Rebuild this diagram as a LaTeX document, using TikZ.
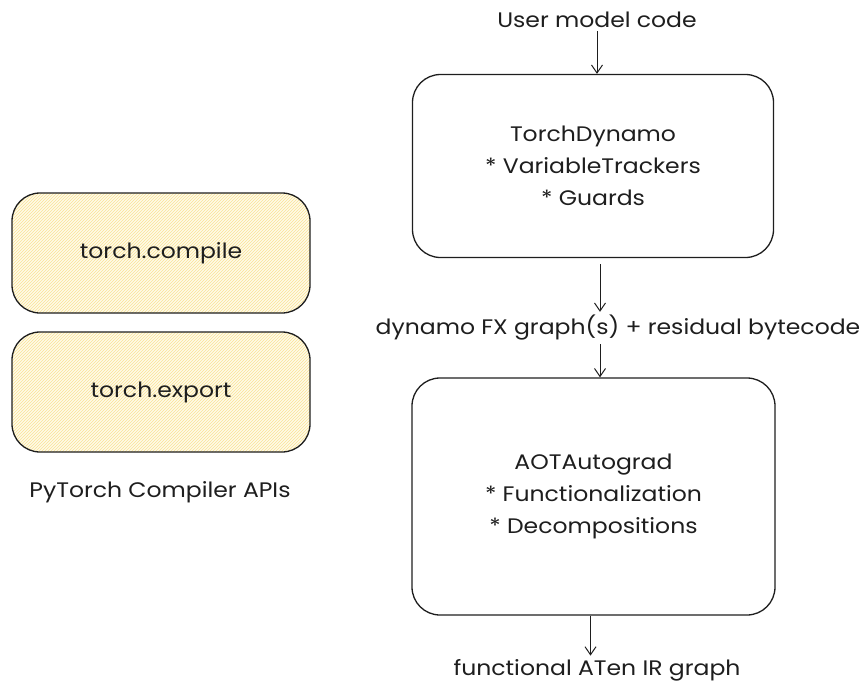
\documentclass[tikz,border=0pt]{standalone}
\usepackage{fontspec}
\setmainfont[FakeStretch=1.12]{Poppins}
\usetikzlibrary{positioning, patterns, arrows.meta}
\definecolor{hatchbg}{RGB}{255,251,232}
\definecolor{hatchline}{RGB}{250,226,150}
\definecolor{ink}{RGB}{30,30,30}

\begin{document}
\begin{tikzpicture}[x=1pt, y=-1pt,
    every node/.style={font=\fontsize{21}{32}\selectfont, text=ink},
    box/.style={draw=ink, line width=1.3pt, rounded corners=28pt, align=center},
    api/.style={box, preaction={fill=hatchbg}, pattern=north east lines, pattern color=hatchline,
        minimum width=298pt, minimum height=120pt},
    flow/.style={-{Straight Barb[length=8pt,width=11pt]}, line width=1pt, draw=ink}]
        \useasboundingbox (0,0) rectangle (865,688);

        % compiler entry points
        \node[api] (tcompile) at (161, 253) {torch.compile};
        \node[api] (texport) at (161, 392) {torch.export};
        \node (apis) at (160, 492) {PyTorch Compiler APIs};

        % pipeline
        \node (usr) at (597, 20) {User model code};
        \node[box, minimum width=361pt, minimum height=183pt] (dyn) at (593, 166)
            {TorchDynamo\\* VariableTrackers\\* Guards};
        \node (fx) at (618, 328) {dynamo FX graph(s) + residual bytecode};
        \node[box, minimum width=363pt, minimum height=237pt] (aot) at (593.5, 496.5)
            {AOTAutograd\\* Functionalization\\* Decompositions};
        \node (out) at (597, 670) {functional ATen IR graph};

        \draw[flow] (usr.south) -- (usr.south |- dyn.north);
        \draw[flow, shorten <=6pt] ([xshift=7pt]dyn.south) -- ([xshift=7pt]dyn.south |- fx.north);
        \draw[flow] ([xshift=-18pt]fx.south) -- ([xshift=-18pt]fx.south |- aot.north);
        \draw[flow] ([xshift=-3pt]aot.south) -- ([xshift=-3pt]aot.south |- out.north);
\end{tikzpicture}
\end{document}
